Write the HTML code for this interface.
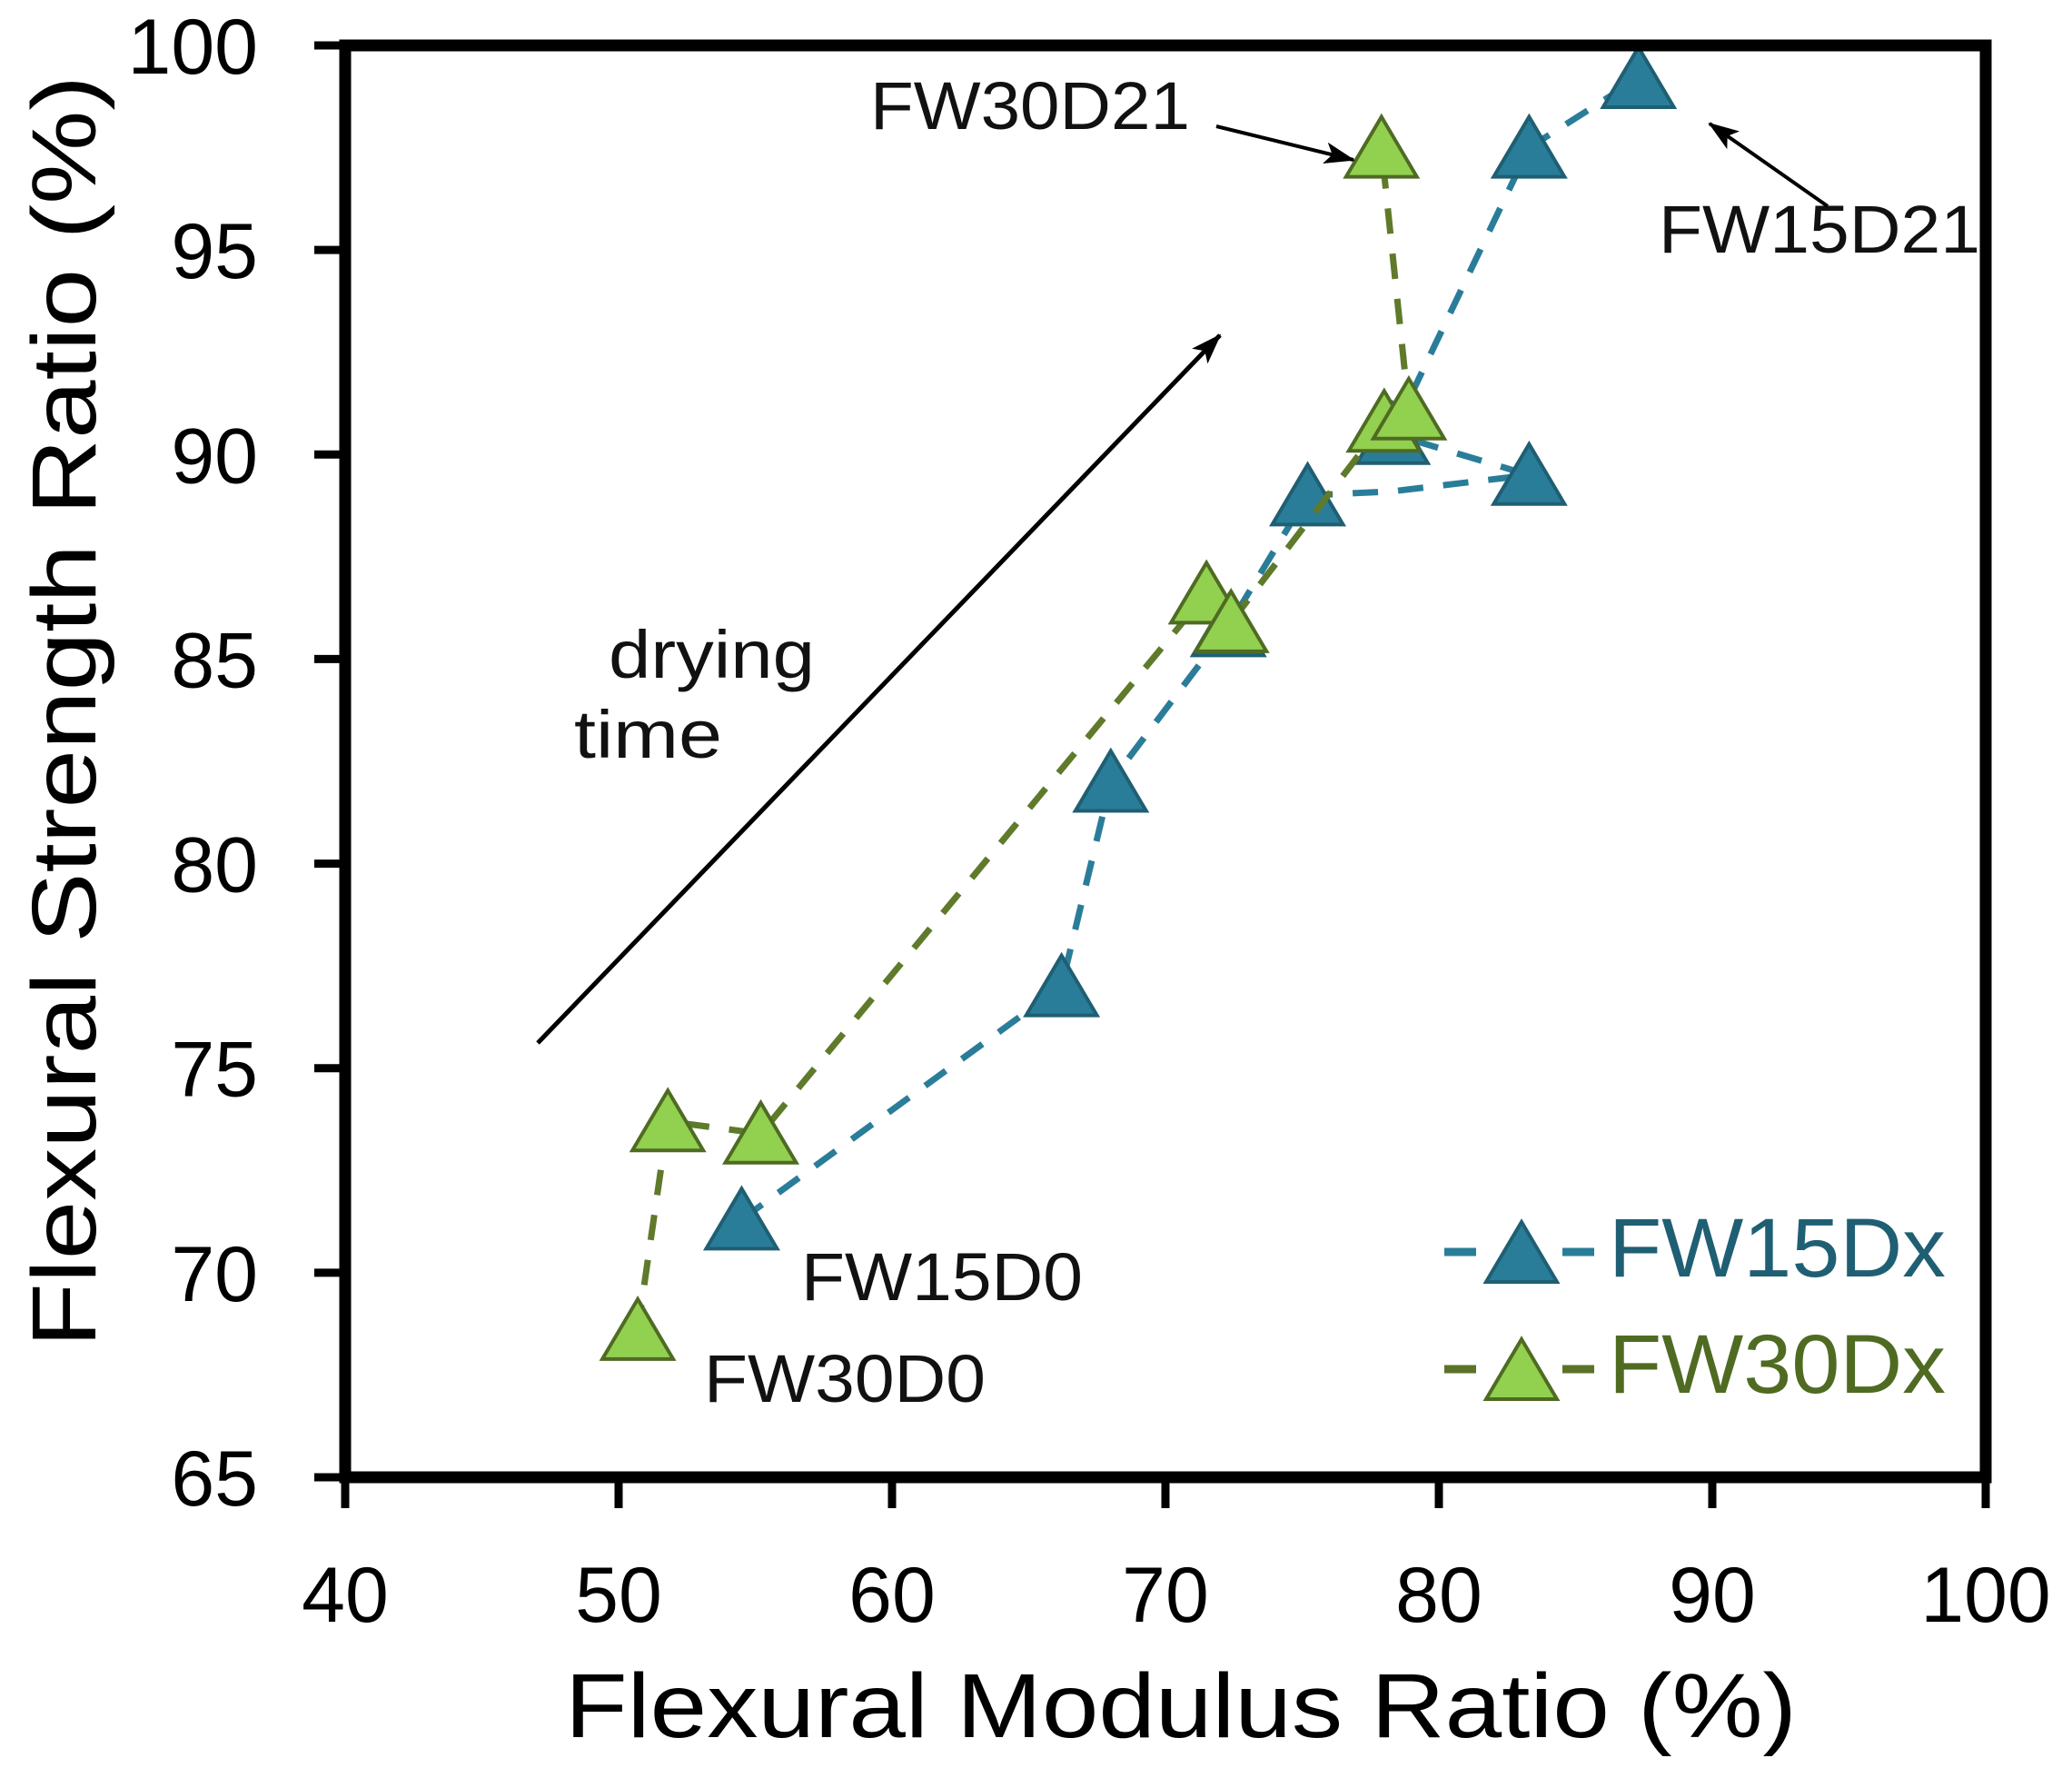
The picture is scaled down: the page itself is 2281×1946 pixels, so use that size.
<!DOCTYPE html>
<html><head><meta charset="utf-8"><style>
html,body{margin:0;padding:0;background:#fff;}
svg{display:block;font-family:"Liberation Sans",Arial,sans-serif;}
</style></head><body>
<svg id="chart" width="2281" height="1946" viewBox="0 0 2281 1946">
<defs>
<marker id="ah" markerWidth="34" markerHeight="24" refX="32" refY="12" orient="auto" markerUnits="userSpaceOnUse" viewBox="0 0 34 24"><path d="M0,0 L34,12 L0,24 L8,12 z" fill="#000"/></marker>
</defs>
<g id="series-layer"></g>
<rect x="380" y="50" width="1806" height="1576" fill="none" stroke="#000" stroke-width="13"/>
<g id="axes-layer"></g>
<text x="1300" y="1912" font-size="100" text-anchor="middle" textLength="1356" lengthAdjust="spacingAndGlyphs">Flexural Modulus Ratio (%)</text>
<text transform="translate(105,783) rotate(-90)" font-size="100" text-anchor="middle" textLength="1400" lengthAdjust="spacingAndGlyphs">Flexural Strength Ratio (%)</text>
<g font-size="74" fill="#111">
<text x="958" y="142" textLength="352" lengthAdjust="spacingAndGlyphs">FW30D21</text>
<text x="1826" y="278" textLength="354" lengthAdjust="spacingAndGlyphs">FW15D21</text>
<text x="882" y="1431" textLength="310" lengthAdjust="spacingAndGlyphs">FW15D0</text>
<text x="775" y="1543" textLength="310" lengthAdjust="spacingAndGlyphs">FW30D0</text>
<text x="670" y="746" textLength="227" lengthAdjust="spacingAndGlyphs">drying</text>
<text x="632" y="834" textLength="163" lengthAdjust="spacingAndGlyphs">time</text>
</g>
<line x1="1339" y1="139" x2="1490" y2="176" stroke="#000" stroke-width="4" marker-end="url(#ah)"/>
<line x1="2012" y1="227" x2="1882" y2="136" stroke="#000" stroke-width="4" marker-end="url(#ah)"/>
<line x1="592" y1="1148" x2="1343" y2="369" stroke="#000" stroke-width="5" marker-end="url(#ah)"/>
<g>
<line x1="1590" y1="1378" x2="1760" y2="1378" stroke="#2a7d99" stroke-width="9" stroke-dasharray="35,95"/>
<polygon points="1675,1345 1714,1411 1636,1411" fill="#2a7d99" stroke="#1f5f73" stroke-width="4"/>
<text x="1771" y="1405" font-size="92" fill="#1f5f73" textLength="371" lengthAdjust="spacingAndGlyphs">FW15Dx</text>
<line x1="1590" y1="1507" x2="1760" y2="1507" stroke="#5a7328" stroke-width="9" stroke-dasharray="35,95"/>
<polygon points="1675,1474 1714,1540 1636,1540" fill="#92d050" stroke="#4f6b22" stroke-width="4"/>
<text x="1771" y="1533" font-size="92" fill="#4f6b22" textLength="371" lengthAdjust="spacingAndGlyphs">FW30Dx</text>
</g>
</svg>
<script>
const fw15X = [54.5, 66.2, 68.0, 72.3, 75.2, 78.3, 83.3, 78.3, 83.3, 87.3];
const fw15Y = [71.3, 77.0, 82.0, 85.8, 89.0, 89.1, 89.5, 90.5, 97.5, 99.2];
const fw30X = [50.7, 51.8, 55.2, 71.5, 72.4, 78.0, 78.9, 77.9];
const fw30Y = [68.6, 73.7, 73.4, 86.6, 85.9, 90.8, 91.1, 97.5];
const fw15Markers = [true, true, true, true, true, false, true, true, true, true];
const xTicks = [40, 50, 60, 70, 80, 90, 100];
const yTicks = [65, 70, 75, 80, 85, 90, 95, 100];

const NS = "http://www.w3.org/2000/svg";
const X0 = 380, X1 = 2186, Y0 = 1626, Y1 = 50;
function sx(v){ return X0 + (v - 40) / 60 * (X1 - X0); }
function sy(v){ return Y0 - (v - 65) / 35 * (Y0 - Y1); }
function mk(tag, attrs, parent){
  const e = document.createElementNS(NS, tag);
  for (const k in attrs) e.setAttribute(k, attrs[k]);
  parent.appendChild(e);
  return e;
}
const axes = document.getElementById('axes-layer');
xTicks.forEach(t => {
  const l = mk('line', {x1: sx(t), x2: sx(t), y1: Y0, y2: Y0 + 34, stroke: '#000', 'stroke-width': 9}, axes);
  
  
  const tx = mk('text', {x: sx(t), y: 1785, 'font-size': 86, 'text-anchor': 'middle'}, axes);
  tx.textContent = t;
  
  
});
yTicks.forEach(t => {
  const l = mk('line', {x1: X0 - 34, x2: X0, y1: sy(t), y2: sy(t), stroke: '#000', 'stroke-width': 9}, axes);
  
  
  const tx = mk('text', {x: 284, y: sy(t) + 31, 'font-size': 86, 'text-anchor': 'end'}, axes);
  tx.textContent = t;
  
  
});
const layer = document.getElementById('series-layer');
function series(xs, ys, show, lineColor, fill, stroke, name){
  const pts = xs.map((x, i) => sx(x) + ',' + sy(ys[i])).join(' ');
  const pl = mk('polyline', {points: pts, fill: 'none', stroke: lineColor, 'stroke-width': 7, 'stroke-dasharray': '28,22'}, layer);
  
  
  xs.forEach((x, i) => {
    if (show && !show[i]) return;
    const cx = sx(x), cy = sy(ys[i]);
    const p = mk('polygon', {points: `${cx},${cy-34} ${cx+39},${cy+32} ${cx-39},${cy+32}`, fill: fill, stroke: stroke, 'stroke-width': 4}, layer);
    
    
  });
}
series(fw15X, fw15Y, fw15Markers, '#2a7d99', '#2a7d99', '#1f5f73', 'fw15dx');
series(fw30X, fw30Y, null, '#5f7a2a', '#92d050', '#4f6b22', 'fw30dx');
</script>
</body></html>
